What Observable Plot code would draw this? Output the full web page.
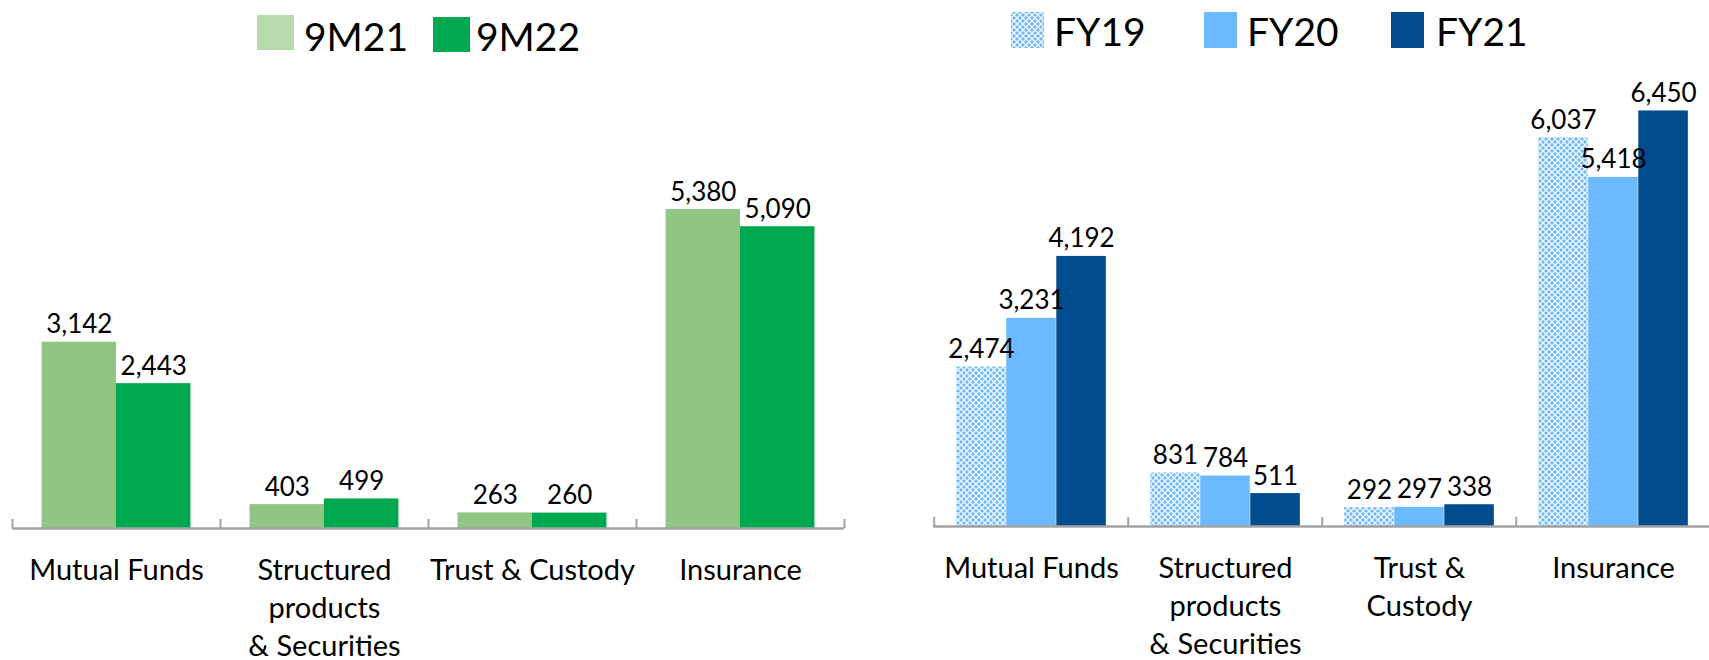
<!DOCTYPE html>
<html><head><meta charset="utf-8">
<script src="https://cdn.jsdelivr.net/npm/d3@7"></script>
<script src="https://cdn.jsdelivr.net/npm/@observablehq/plot@0.6"></script>
<style>
html,body{margin:0;padding:0;background:#fff;}
body{width:1709px;height:660px;overflow:hidden;position:relative;font-family:Lato,"Open Sans",sans-serif;}
.col{position:absolute;top:0;}
.legend{position:relative;height:70px;}
.sw{position:absolute;}
.lt{position:absolute;font-size:39px;line-height:38px;color:#000;white-space:nowrap;}
svg{display:block;}
</style></head>
<body>
<div class="col" id="leftCol" style="left:0px;width:870px;">
  <div class="legend">
    <div class="sw" style="left:257px;top:15px;width:37px;height:35px;background:#B8DBAE;"></div>
    <div class="lt" style="left:304px;top:17px;">9M21</div>
    <div class="sw" style="left:433px;top:17px;width:37px;height:35px;background:#00A84F;"></div>
    <div class="lt" style="left:476px;top:17px;">9M22</div>
  </div>
</div>
<div class="col" id="rightCol" style="left:880px;width:831px;">
  <div class="legend">
    <svg class="sw" style="left:131px;top:12px;" width="33" height="36">
      <defs><pattern id="fy19leg" width="6" height="6" patternUnits="userSpaceOnUse">
        <rect width="6" height="6" fill="#6FB9FA"/>
        <path d="M0,0L6,6M6,0L0,6" stroke="#fff" stroke-width="1.3" stroke-opacity="0.9"/>
      </pattern></defs>
      <rect width="33" height="36" fill="url(#fy19leg)"/>
    </svg>
    <div class="lt" style="left:174px;top:12px;">FY19</div>
    <div class="sw" style="left:324px;top:12px;width:33px;height:36px;background:#6BBAFF;"></div>
    <div class="lt" style="left:367px;top:12px;">FY20</div>
    <div class="sw" style="left:511px;top:12px;width:33px;height:36px;background:#004C8C;"></div>
    <div class="lt" style="left:556px;top:12px;">FY21</div>
  </div>
</div>
<script>
// ---------- data ----------
const categories = ["Mutual Funds", "Structured products & Securities", "Trust & Custody", "Insurance"];
const leftLabels = ["Mutual Funds", "Structured\nproducts\n& Securities", "Trust & Custody", "Insurance"];
const rightLabels = ["Mutual Funds", "Structured\nproducts\n& Securities", "Trust &\nCustody", "Insurance"];

const leftSeries = ["9M21", "9M22"];
const values9M21 = [3142, 403, 263, 5380];
const values9M22 = [2443, 499, 260, 5090];

const rightSeries = ["FY19", "FY20", "FY21"];
const valuesFY19 = [2474, 831, 292, 6037];
const valuesFY20 = [3231, 784, 297, 5418];
const valuesFY21 = [4192, 511, 338, 6450];

const fmt = d3.format(",");

function groupedChart(o) {
  const {labels, series, values, colors, width, height, marginLeft, marginRight, marginTop, marginBottom, groupFrac, yMax, defs} = o;
  const n = categories.length;
  const step = (width - marginLeft - marginRight) / n;
  const groupW = step * groupFrac;
  const barW = groupW / series.length;
  const side = (step - groupW) / 2;
  const rows = [];
  series.forEach((s, i) => categories.forEach((c, j) => rows.push({cat: c, series: s, value: values[i][j]})));
  const marks = [];
  series.forEach((s, i) => {
    const data = rows.filter(r => r.series === s);
    marks.push(Plot.barY(data, {
      x: "cat", y: "value", fill: colors[i],
      insetLeft: side + i * barW, insetRight: step - side - (i + 1) * barW
    }));
  });
  marks.push(Plot.ruleY([0], {stroke: "#A3A3A3", strokeWidth: 2.5}));
  marks.push(Plot.ruleX(categories, {x: d => d, y1: () => 0, y2: () => 0, insetTop: -9, dx: -step / 2, stroke: "#A3A3A3", strokeWidth: 2}));
  marks.push(Plot.ruleX([categories[n - 1]], {x: d => d, y1: () => 0, y2: () => 0, insetTop: -9, dx: step / 2, stroke: "#A3A3A3", strokeWidth: 2}));
  series.forEach((s, i) => {
    const data = rows.filter(r => r.series === s);
    marks.push(Plot.text(data, {
      x: "cat", y: "value", text: d => fmt(d.value),
      dx: -step / 2 + side + (i + 0.5) * barW, dy: -9,
      lineAnchor: "bottom", fontSize: 26, fill: "#000"
    }));
  });
  marks.push(Plot.text(categories, {
    x: d => d, y: () => 0, text: (d, i) => labels[i],
    lineAnchor: "top", dy: 25, lineHeight: 1.3, fontSize: 29, fill: "#000"
  }));
  const svg = Plot.plot({
    width, height, marginLeft, marginRight, marginTop, marginBottom,
    x: {domain: categories, paddingInner: 0, paddingOuter: 0, axis: null},
    y: {domain: [0, yMax], axis: null},
    marks,
    style: {fontFamily: "Lato, 'Open Sans', sans-serif", background: "white", overflow: "visible"}
  });
  if (defs) defs(d3.select(svg));
  return svg;
}

const leftSvg = groupedChart({
  labels: leftLabels, series: leftSeries, values: [values9M21, values9M22],
  colors: ["#90C584", "#00A84F"],
  width: 870, height: 590, marginLeft: 12, marginRight: 26, marginTop: 43, marginBottom: 132,
  groupFrac: 0.716, yMax: 7000
});
document.getElementById("leftCol").appendChild(leftSvg);

const rightSvg = groupedChart({
  labels: rightLabels, series: rightSeries, values: [valuesFY19, valuesFY20, valuesFY21],
  colors: ["url(#fy19pat)", "#6BBAFF", "#004C8C"],
  width: 831, height: 590, marginLeft: 53, marginRight: 0, marginTop: 5, marginBottom: 134,
  groupFrac: 0.772, yMax: 7000,
  defs: sel => {
    const p = sel.insert("defs", ":first-child").append("pattern")
      .attr("id", "fy19pat").attr("width", 6).attr("height", 6).attr("patternUnits", "userSpaceOnUse");
    p.append("rect").attr("width", 6).attr("height", 6).attr("fill", "#6FB9FA");
    p.append("path").attr("d", "M0,0L6,6M6,0L0,6").attr("stroke", "#fff").attr("stroke-width", 1.3).attr("stroke-opacity", 0.9);
  }
});
document.getElementById("rightCol").appendChild(rightSvg);
</script>
</body></html>
